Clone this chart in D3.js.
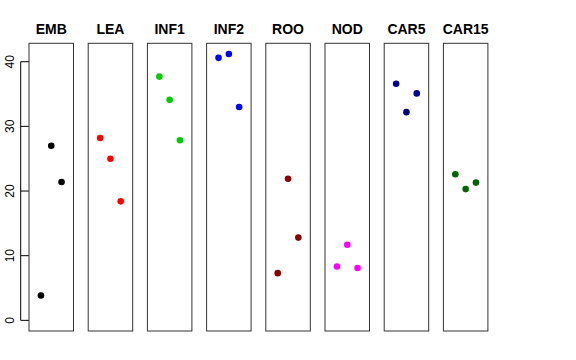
<!DOCTYPE html>
<html><head><meta charset="utf-8">
<script src="https://cdn.jsdelivr.net/npm/d3@7"></script>
<style>body{margin:0;background:#fff}svg{display:block}</style>
</head><body>
<script>
const categories = ["EMB","LEA","INF1","INF2","ROO","NOD","CAR5","CAR15"];
const colors = ["#000000","#FF0000","#00CD00","#0000FF","#8B0000","#FF00FF","#00008B","#006400"];
const values = [
  [3.85, 27.0, 21.4],
  [28.2, 25.0, 18.4],
  [37.7, 34.1, 27.85],
  [40.6, 41.2, 33.0],
  [7.3, 21.9, 12.8],
  [8.33, 11.7, 8.1],
  [36.6, 32.2, 35.1],
  [22.6, 20.3, 21.3]
];
const yTicks = [0,10,20,30,40];

(function(){
const W=576,H=360;
const svg=d3.select("body").append("svg").attr("width",W).attr("height",H);
const pTop=43.3,pBottom=331;
const ymax=d3.max(values.flat()), ymin=0, pad=(ymax-ymin)*0.04;
const y=d3.scaleLinear().domain([ymin-pad,ymax+pad]).range([pBottom,pTop]);
const panelX=d3.scaleBand().domain(categories).range([29,29+59.2*8]).paddingInner(0);
const pw=44.5;

const ax=svg.append("g").attr("transform","translate(29,0)");
ax.append("line").attr("x1",-8.3).attr("x2",-8.3).attr("y1",y(0)).attr("y2",y(40)).attr("stroke","#000");
yTicks.forEach(t=>{
  ax.append("line").attr("x1",-8.3).attr("x2",0).attr("y1",y(t)).attr("y2",y(t)).attr("stroke","#000");
  ax.append("text").attr("transform",`translate(-15.5,${y(t)}) rotate(-90)`).attr("text-anchor","middle")
    .attr("font-family","Liberation Sans, Arial, sans-serif").attr("font-size",12).text(t);
});

categories.forEach((c,i)=>{
  const x0=panelX(c);
  const xs=d3.scaleLinear().domain([-0.16,4.16]).range([x0,x0+pw]);
  const g=svg.append("g");
  g.append("rect").attr("x",x0).attr("y",pTop).attr("width",pw).attr("height",pBottom-pTop)
    .attr("fill","none").attr("stroke","#333").attr("stroke-width",1);
  g.append("text").attr("x",x0+pw/2).attr("y",34).attr("text-anchor","middle")
    .attr("font-family","Liberation Sans, Arial, sans-serif").attr("font-weight","bold").attr("font-size",14).text(c);
  values[i].forEach((v,j)=>{
    g.append("circle").attr("cx",xs(j+1)).attr("cy",y(v)).attr("r",3.3).attr("fill",colors[i]);
  });
});
})();
</script>
</body></html>
